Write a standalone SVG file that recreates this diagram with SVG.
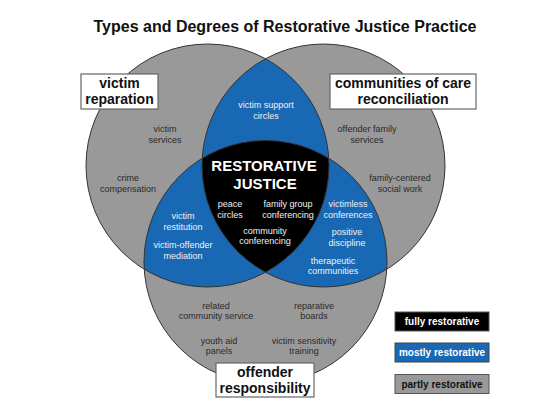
<svg xmlns="http://www.w3.org/2000/svg" width="540" height="418" viewBox="0 0 540 418">
<style>
.t{font-family:"Liberation Sans",Arial,sans-serif;text-anchor:middle}
.title{font-size:16px;font-weight:bold;fill:#111}
.lbl{font-size:14px;font-weight:bold;fill:#111}
.g{font-size:9px;fill:#2a2a2a}
.w{font-size:9px;fill:#f2f2f2}
.rj{font-size:15px;font-weight:bold;fill:#fff}
.lg{font-size:10px;font-weight:bold}
.box{fill:#fff;stroke:#666;stroke-width:1.2}
.ring{fill:none;stroke:#333;stroke-width:1}
</style>
<defs>
<clipPath id="cL"><circle cx="207.5" cy="165.5" r="121.5"/></clipPath>
<clipPath id="cR"><circle cx="323.5" cy="165.5" r="121.5"/></clipPath>
<clipPath id="cB"><circle cx="265.5" cy="262" r="121.5"/></clipPath>
</defs>
<rect width="540" height="418" fill="#fff"/>
<text class="t title" x="285" y="32">Types and Degrees of Restorative Justice Practice</text>
<g id="venn">
<circle cx="207.5" cy="165.5" r="121.5" fill="#999"/>
<circle cx="323.5" cy="165.5" r="121.5" fill="#999"/>
<circle cx="265.5" cy="262" r="121.5" fill="#999"/>
<circle cx="323.5" cy="165.5" r="121.5" fill="#1868b4" clip-path="url(#cL)"/>
<circle cx="265.5" cy="262" r="121.5" fill="#1868b4" clip-path="url(#cL)"/>
<circle cx="265.5" cy="262" r="121.5" fill="#1868b4" clip-path="url(#cR)"/>
<g clip-path="url(#cL)"><circle cx="265.5" cy="262" r="121.5" fill="#000" clip-path="url(#cR)"/></g>
<circle class="ring" cx="207.5" cy="165.5" r="121.5"/>
<circle class="ring" cx="323.5" cy="165.5" r="121.5"/>
<circle class="ring" cx="265.5" cy="262" r="121.5"/>
</g>
<g id="victim-reparation">
<rect class="box" x="81" y="74" width="77" height="35"/>
<text class="t lbl" x="119.5" y="88">victim</text>
<text class="t lbl" x="119.5" y="104">reparation</text>
</g>
<g id="communities">
<rect class="box" x="330" y="74" width="146" height="35"/>
<text class="t lbl" x="403" y="88">communities of care</text>
<text class="t lbl" x="403" y="104">reconciliation</text>
</g>
<g id="offender">
<rect class="box" x="216" y="363" width="98" height="34"/>
<text class="t lbl" x="265" y="377">offender</text>
<text class="t lbl" x="265" y="393">responsibility</text>
</g>
<g id="gray-items">
<text class="t g" x="165" y="132">victim</text>
<text class="t g" x="165" y="142.5">services</text>
<text class="t g" x="128" y="181">crime</text>
<text class="t g" x="128" y="191.5">compensation</text>
<text class="t g" x="367" y="132">offender family</text>
<text class="t g" x="367" y="142.5">services</text>
<text class="t g" x="400" y="181">family-centered</text>
<text class="t g" x="400" y="191.5">social work</text>
<text class="t g" x="216" y="308.5">related</text>
<text class="t g" x="216" y="319">community service</text>
<text class="t g" x="314" y="308.5">reparative</text>
<text class="t g" x="314" y="319">boards</text>
<text class="t g" x="219" y="343.5">youth aid</text>
<text class="t g" x="219" y="354">panels</text>
<text class="t g" x="304" y="343.5">victim sensitivity</text>
<text class="t g" x="304" y="354">training</text>
</g>
<g id="blue-items">
<text class="t w" x="266" y="108">victim support</text>
<text class="t w" x="266" y="119">circles</text>
<text class="t w" x="183" y="219">victim</text>
<text class="t w" x="183" y="230">restitution</text>
<text class="t w" x="183" y="248">victim-offender</text>
<text class="t w" x="183" y="258.5">mediation</text>
<text class="t w" x="348" y="207">victimless</text>
<text class="t w" x="348" y="217.5">conferences</text>
<text class="t w" x="347" y="235">positive</text>
<text class="t w" x="347" y="245.5">discipline</text>
<text class="t w" x="333" y="263.5">therapeutic</text>
<text class="t w" x="333" y="274">communities</text>
</g>
<g id="restorative-justice">
<text class="t rj" x="264" y="171">RESTORATIVE</text>
<text class="t rj" x="265" y="189">JUSTICE</text>
<text class="t w" x="230" y="207">peace</text>
<text class="t w" x="230" y="217.5">circles</text>
<text class="t w" x="288" y="207">family group</text>
<text class="t w" x="288" y="217.5">conferencing</text>
<text class="t w" x="265" y="233.5">community</text>
<text class="t w" x="265" y="244">conferencing</text>
</g>
<g id="legend">
<rect x="395" y="312" width="94" height="19" fill="#000" stroke="#555"/>
<text class="t lg" x="442" y="325" fill="#fff">fully restorative</text>
<rect x="395" y="343" width="94" height="19" fill="#1868b4" stroke="#444"/>
<text class="t lg" x="442" y="356" fill="#fff">mostly restorative</text>
<rect x="395" y="374.5" width="94" height="19" fill="#999" stroke="#555"/>
<text class="t lg" x="442" y="387.5" fill="#111">partly restorative</text>
</g>
</svg>
